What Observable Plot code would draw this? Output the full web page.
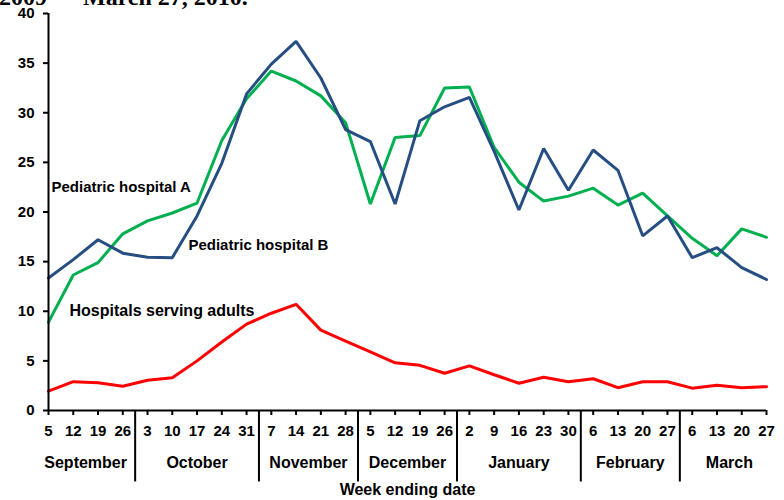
<!DOCTYPE html>
<html>
<head>
<meta charset="utf-8">
<script src="https://cdn.jsdelivr.net/npm/d3@7"></script>
<script src="https://cdn.jsdelivr.net/npm/@observablehq/plot@0.6"></script>
<style>
  html, body { margin: 0; padding: 0; background: white; overflow: hidden; }
  #wrap { position: relative; width: 784px; height: 500px; }
  #title { position: absolute; top: -15px; left: -1px; font: bold 24px "Liberation Serif", "Times New Roman", serif; line-height: 24px; white-space: pre; color: black; z-index: 2; }
</style>
</head>
<body>
<div id="wrap">
  <div id="title">2009 — March 27, 2010.</div>
  <div id="chart"></div>
</div>
<script>
const weekLabels = ["5","12","19","26","3","10","17","24","31","7","14","21","28","5","12","19","26","2","9","16","23","30","6","13","20","27","6","13","20","27"];
const months = ["September","October","November","December","January","February","March"];
const weeksPerMonth = [4,5,4,4,5,4,4];
const hospitalA = [8.9,13.65,14.9,17.8,19.1,19.9,20.9,27.2,31.4,34.2,33.2,31.7,29.0,20.8,27.5,27.7,32.5,32.6,26.5,23.0,21.1,21.6,22.4,20.7,21.9,19.6,17.35,15.6,18.3,17.45];
const hospitalB = [13.35,15.2,17.2,15.85,15.45,15.4,19.6,24.9,31.9,34.9,37.2,33.5,28.3,27.1,20.8,29.2,30.6,31.55,26.1,20.2,26.4,22.2,26.25,24.2,17.6,19.6,15.4,16.4,14.4,13.2];
const adults = [1.95,2.9,2.8,2.45,3.05,3.3,5.0,6.9,8.7,9.8,10.7,8.1,7.0,5.9,4.8,4.55,3.75,4.5,3.6,2.75,3.35,2.9,3.2,2.3,2.9,2.9,2.25,2.55,2.3,2.4];
const seriesNames = ["Pediatric hospital A","Pediatric hospital B","Hospitals serving adults"];
const seriesColors = ["#00b050","#264e82","#ff0000"];
const yTicks = [0,5,10,15,20,25,30,35,40];

const rows = [];
[hospitalA, hospitalB, adults].forEach((arr, s) => arr.forEach((v, i) => rows.push({i, v, series: seriesNames[s]})));

// month boundaries and centers (in week-index units)
const monthRows = [];
const separators = [];
let start = 0;
months.forEach((m, k) => {
  const n = weeksPerMonth[k];
  monthRows.push({month: m, center: start + (n - 1) / 2});
  if (k > 0) separators.push(start - 0.5);
  start += n;
});

const font = "'Liberation Sans', Arial, sans-serif";

const chart = Plot.plot({
  width: 784,
  height: 500,
  marginLeft: 48,
  marginRight: 18,
  marginTop: 13,
  marginBottom: 90,
  style: {fontFamily: font, fontSize: "15px", color: "black", background: "white", overflow: "visible"},
  x: {type: "linear", domain: [0, weekLabels.length - 1]},
  y: {domain: [0, 40]},
  color: {domain: seriesNames, range: seriesColors},
  marks: [
    Plot.axisY({ticks: yTicks, tickSize: 5, tickPadding: 9, fontSize: 15, fontWeight: "bold", strokeWidth: 2, label: null}),
    Plot.axisX({ticks: d3.range(weekLabels.length), tickFormat: i => weekLabels[i], tickSize: 5, tickPadding: 10, fontSize: 15, fontWeight: "bold", strokeWidth: 2, label: null}),
    Plot.ruleX(separators, {y1: 0, y2: -7.2, stroke: "black", strokeWidth: 2}),
    Plot.text(monthRows, {x: "center", text: "month", frameAnchor: "bottom", dy: 57, fontSize: 16, fontWeight: "bold"}),
    Plot.text(["Week ending date"], {frameAnchor: "bottom", dy: 84, fontSize: 16, fontWeight: "bold"}),
    Plot.line(rows, {x: "i", y: "v", z: "series", stroke: "series", strokeWidth: 3, strokeLinejoin: "miter"}),
    Plot.ruleX([0], {stroke: "black", strokeWidth: 2}),
    Plot.ruleY([0], {stroke: "black", strokeWidth: 2}),
    Plot.text([seriesNames[0]], {x: 0.12, y: 22.55, textAnchor: "start", fontSize: 15, fontWeight: "bold"}),
    Plot.text([seriesNames[1]], {x: 5.65, y: 16.7, textAnchor: "start", fontSize: 15, fontWeight: "bold"}),
    Plot.text([seriesNames[2]], {x: 0.85, y: 10.07, textAnchor: "start", fontSize: 16, fontWeight: "bold"})
  ]
});
document.getElementById("chart").appendChild(chart);
</script>
</body>
</html>
